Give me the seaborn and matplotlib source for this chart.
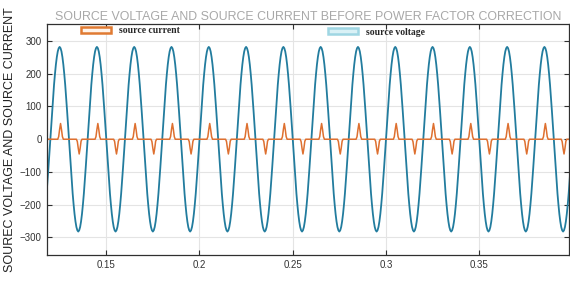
import numpy as np
import pandas as pd
import matplotlib
matplotlib.use("Agg")
import matplotlib.pyplot as plt
import seaborn as sns
from matplotlib.patches import Patch

# one 50 Hz cycle, sampled every 0.5 ms, starting at the voltage peak
dt = 0.0005
t_start = 0.105
n_cycles = 15
voltage_cycle = [282, 278, 268, 251, 228, 199, 166, 128, 87, 44,
                 0, -44, -87, -128, -166, -199, -228, -251, -268, -278,
                 -282, -278, -268, -251, -228, -199, -166, -128, -87, -44,
                 0, 44, 87, 128, 166, 199, 228, 251, 268, 278]
current_cycle = [30, 48, 30, 8, 0, 0, 0, 0, 0, 0,
                 0, 0, 0, 0, 0, 0, 0, 0, 0, -7,
                 -28, -45, -28, -6, 0, 0, 0, 0, 0, 0,
                 0, 0, 0, 0, 0, 0, 0, 0, 0, 8]

x_ticks = [0.15, 0.2, 0.25, 0.3, 0.35]
x_ticklabels = ["0.15", "0.2", "0.25", "0.3", "0.35"]
y_ticks = [-300, -200, -100, 0, 100, 200, 300]

v = np.tile(voltage_cycle, n_cycles)
i = np.tile(current_cycle, n_cycles)
t = t_start + dt * np.arange(len(v))
df = pd.DataFrame({"t": t, "voltage": v, "current": i})

sns.set_theme(style="whitegrid")
plt.rcParams["font.family"] = ["Liberation Sans", "DejaVu Sans"]

fig = plt.figure(figsize=(5.7, 2.82), dpi=100)
ax = fig.add_axes([0.083, 0.0975, 0.915, 0.8175])

volt_col = "#227c9e"
curr_col = "#de7030"
sns.lineplot(data=df, x="t", y="voltage", ax=ax, color=volt_col, lw=1.3,
             estimator=None, errorbar=None)
sns.lineplot(data=df, x="t", y="current", ax=ax, color=curr_col, lw=1.1,
             estimator=None, errorbar=None)

ax.set_xlim(0.1184, 0.3981)
ax.set_ylim(-352, 352)
ax.set_xticks(x_ticks)
ax.set_xticklabels(x_ticklabels)
ax.set_yticks(y_ticks)
ax.grid(True, color="#e4e4e4", lw=0.8)
ax.set_facecolor("white")
for s in ax.spines.values():
    s.set_visible(True)
    s.set_color("#303030")
    s.set_linewidth(0.9)
ax.tick_params(direction="in", length=3.5, width=0.8, color="#303030",
               labelsize=7, labelcolor="#333333", top=True, right=True,
               bottom=True, left=True, pad=4)

ax.set_xlabel("")
ax.set_ylabel("SOUREC VOLTAGE AND SOURCE CURRENT", fontsize=9, color="#222222",
              labelpad=3)
ax.set_title("SOURCE VOLTAGE AND SOURCE CURRENT BEFORE POWER FACTOR CORRECTION",
             fontsize=8.9, color="#a8a8a8", pad=3)

leg_font = {"family": "Liberation Serif", "weight": "bold", "size": 6.9}
h1 = Patch(facecolor="#fff4ea", edgecolor="#e07a32", lw=1.8)
h2 = Patch(facecolor="#d9f1f6", edgecolor="#9fd6e3", lw=1.8)
leg1 = ax.legend([h1], ["source current"], loc="center left",
                 bbox_to_anchor=(0.065, 0.97), frameon=False, prop=leg_font,
                 borderpad=0, borderaxespad=0, handlelength=3.1,
                 handleheight=0.6, handletextpad=0.85)
ax.add_artist(leg1)
ax.legend([h2], ["source voltage"], loc="center left",
          bbox_to_anchor=(0.538, 0.965), frameon=False, prop=leg_font,
          borderpad=0, borderaxespad=0, handlelength=3.1,
          handleheight=0.6, handletextpad=0.85)

fig.savefig("out.png", dpi=100)
